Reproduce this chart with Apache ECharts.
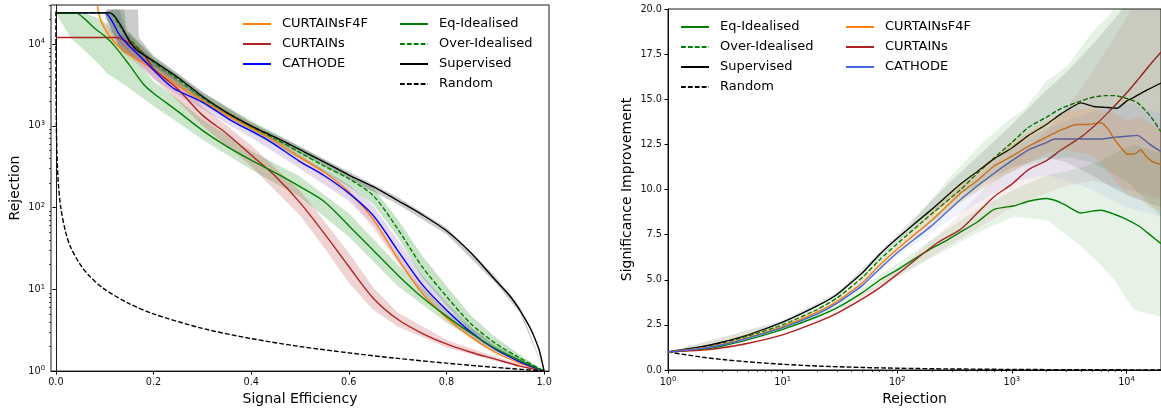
<!DOCTYPE html>
<html>
<head>
<meta charset="utf-8">
<script src="https://cdn.jsdelivr.net/npm/echarts@6/dist/echarts.min.js"></script>
<style>
html,body{margin:0;padding:0;background:#fff;}
#chart{width:1161px;height:411px;}
</style>
</head>
<body>
<div id="chart"></div>
<script>
// ---------- Left panel: Signal Efficiency vs Rejection ----------
const leftXTicks = [0, 0.2, 0.4, 0.6, 0.8, 1.0];
const leftYTicks = [1, 10, 100, 1000, 10000];
const leftYMinor = [2,3,4,5,6,7,8,9,20,30,40,50,60,70,80,90,200,300,400,500,600,700,800,900,2000,3000,4000,5000,6000,7000,8000,9000,20000,30000];

const leftF4F = [[0.085,29000],[0.09,21000],[0.1,15500],[0.12,10500],[0.14,8300],[0.17,6300],[0.2,4900],[0.25,3100],[0.3,2050],[0.36,1250],[0.43,750],[0.5,410],[0.55,270],[0.6,155],[0.65,72],[0.7,24],[0.75,9],[0.8,4.5],[0.85,2.6],[0.9,1.7],[0.95,1.25],[1,1]];
const leftCurtains = [[0,12000],[0.125,12000],[0.13,11800],[0.16,9500],[0.18,7500],[0.2,5000],[0.25,2800],[0.3,1350],[0.35,800],[0.4,440],[0.45,240],[0.5,115],[0.55,48],[0.6,19],[0.65,7.8],[0.7,4.3],[0.75,2.9],[0.8,2.15],[0.85,1.7],[0.9,1.4],[0.95,1.15],[1,1]];
const leftCathode = [[0,24000],[0.1,24000],[0.115,19000],[0.13,13000],[0.15,9500],[0.173,7000],[0.2,4800],[0.24,2900],[0.3,1950],[0.36,1150],[0.43,690],[0.5,365],[0.55,245],[0.6,150],[0.65,80],[0.7,30],[0.75,11.5],[0.8,5.6],[0.85,3],[0.9,1.85],[0.95,1.3],[1,1]];
const leftEqIdeal = [[0,24000],[0.04,24000],[0.06,20000],[0.08,15500],[0.1,12500],[0.12,9500],[0.15,5600],[0.18,3200],[0.2,2500],[0.25,1500],[0.3,880],[0.35,560],[0.4,380],[0.45,265],[0.5,180],[0.55,118],[0.6,60],[0.65,30],[0.7,15],[0.75,8],[0.8,4.7],[0.85,2.9],[0.9,1.9],[0.95,1.35],[1,1]];
const leftOverIdeal = [[0,24000],[0.11,24000],[0.13,17000],[0.15,11500],[0.2,6000],[0.25,3700],[0.3,2200],[0.35,1450],[0.4,980],[0.45,690],[0.5,470],[0.55,320],[0.6,225],[0.65,140],[0.7,55],[0.75,19],[0.8,8.2],[0.85,3.8],[0.9,2.2],[0.95,1.45],[1,1]];
const leftSupervised = [[0,24000],[0.11,24000],[0.13,18000],[0.15,11000],[0.165,8500],[0.2,6200],[0.25,3900],[0.3,2300],[0.35,1450],[0.4,1000],[0.45,720],[0.5,510],[0.55,360],[0.6,250],[0.65,180],[0.7,122],[0.75,82],[0.8,52],[0.85,28],[0.9,13],[0.93,8.3],[0.95,5.6],[0.97,3.5],[0.98,2.6],[0.99,1.8],[1,1]];
const leftRandom = [[0.00004,25000],[0.0001,10000],[0.0003,3333],[0.001,1000],[0.002,500],[0.005,200],[0.01,100],[0.02,50],[0.03,33],[0.05,20],[0.07,14.3],[0.1,10],[0.15,6.7],[0.2,5],[0.3,3.33],[0.4,2.5],[0.5,2],[0.6,1.67],[0.7,1.43],[0.8,1.25],[0.9,1.11],[1,1]];

// bands: [x, low, high]
const bandF4F = [[0.085,29000,29000],[0.1,13000,18000],[0.15,6500,9000],[0.2,4400,5500],[0.3,1850,2300],[0.4,850,1100],[0.5,370,455],[0.6,140,172],[0.7,21,28],[0.8,4.1,5],[0.9,1.6,1.8],[1,1,1]];
const bandCurtains = [[0.125,11500,12500],[0.15,8000,13500],[0.2,3800,6500],[0.25,2000,3600],[0.3,1000,1750],[0.4,320,580],[0.5,80,160],[0.55,32,68],[0.6,12,28],[0.65,5.6,10.5],[0.7,3.5,5.2],[0.8,1.95,2.4],[0.9,1.33,1.5],[1,1,1]];
const bandCathode = [[0.1,24000,24000],[0.105,16000,26500],[0.13,9000,26500],[0.145,8000,14000],[0.17,5500,9000],[0.2,3800,6200],[0.25,2400,3500],[0.3,1600,2300],[0.4,720,1000],[0.5,300,440],[0.6,120,190],[0.65,60,105],[0.7,22,40],[0.75,8.5,15],[0.8,4.4,7],[0.85,2.6,3.5],[0.9,1.7,2.0],[1,1,1]];
const bandEqIdeal = [[0,24000,24000],[0.03,12000,24000],[0.057,8500,24000],[0.085,5900,21000],[0.105,4400,17500],[0.146,3000,9000],[0.2,1750,3500],[0.25,1100,2100],[0.3,680,1200],[0.4,290,490],[0.5,135,240],[0.6,44,85],[0.7,11,20],[0.8,3.9,5.6],[0.9,1.75,2.1],[1,1,1]];
const bandOverIdeal = [[0.1,24000,24000],[0.115,14000,26500],[0.14,10500,26500],[0.145,9500,15000],[0.2,5000,7000],[0.3,1850,2550],[0.4,830,1150],[0.5,395,560],[0.6,180,260],[0.65,110,175],[0.7,44,72],[0.75,14,26],[0.8,6.3,11],[0.85,3.1,4.8],[0.9,1.95,2.6],[0.95,1.35,1.6],[1,1,1]];
const bandSupervised = [[0.1,24000,24000],[0.105,20000,26500],[0.135,8000,26500],[0.168,6300,26500],[0.17,6300,12000],[0.2,5300,7200],[0.25,3400,4400],[0.3,2000,2600],[0.4,900,1100],[0.5,460,560],[0.6,225,275],[0.7,110,135],[0.8,47,57],[0.9,12,14.5],[0.95,5.2,6.2],[1,1,1]];

// ---------- Right panel: Rejection vs Significance Improvement ----------
const rightXTicks = [1, 10, 100, 1000, 10000];
const rightXMinor = [2,3,4,5,6,7,8,9,20,30,40,50,60,70,80,90,200,300,400,500,600,700,800,900,2000,3000,4000,5000,6000,7000,8000,9000,20000];
const rightYTicks = [0, 2.5, 5, 7.5, 10, 12.5, 15, 17.5, 20];

const rightEqIdeal = [[1,1],[2,1.15],[3,1.33],[5,1.68],[10,2.25],[20,2.95],[30,3.45],[50,4.3],[71,5.0],[100,5.55],[200,6.75],[273,7.2],[357,7.65],[500,8.2],[700,8.9],[1050,9.1],[1400,9.35],[2000,9.5],[2500,9.35],[3000,9.1],[4000,8.7],[5000,8.8],[6000,8.85],[8000,8.6],[10000,8.35],[13000,7.95],[16000,7.5],[20000,7.0]];
const rightOverIdeal = [[1,1],[2,1.27],[3,1.5],[5,1.88],[10,2.5],[20,3.35],[30,4.0],[50,5.15],[70,6.1],[100,7.0],[200,8.65],[357,10.0],[500,10.9],[700,11.75],[1000,12.6],[1400,13.45],[2000,14.0],[2700,14.5],[4000,14.9],[5000,15.1],[6500,15.2],[8000,15.2],[10000,15.05],[12500,14.8],[16000,14.1],[20000,13.2]];
const rightSupervised = [[1,1],[2,1.3],[3,1.55],[5,1.95],[10,2.65],[20,3.55],[30,4.2],[50,5.4],[70,6.4],[100,7.3],[200,8.9],[357,10.3],[500,11.0],[700,11.7],[1000,12.3],[1400,13.0],[2000,13.6],[2700,14.2],[4000,14.8],[5200,14.6],[6500,14.55],[8300,14.5],[10000,14.9],[11600,15.1],[15000,15.5],[20000,15.9]];
const rightRandom = [[1,1],[2,0.71],[3,0.58],[5,0.45],[10,0.32],[20,0.22],[50,0.14],[100,0.1],[300,0.058],[1000,0.032],[3000,0.018],[10000,0.01],[20000,0.007]];
const rightF4F = [[1,1],[2,1.22],[3,1.43],[5,1.8],[10,2.4],[20,3.2],[30,3.8],[50,4.85],[70,5.8],[100,6.7],[200,8.3],[357,9.8],[500,10.5],[700,11.3],[1000,11.85],[1400,12.4],[2000,12.9],[2700,13.3],[3700,13.6],[4500,13.6],[6000,13.7],[7000,13.3],[7800,12.8],[9000,12.3],[10200,11.95],[12000,12.0],[13300,12.2],[15000,11.8],[17400,11.5],[20000,11.4]];
const rightCurtains = [[1,1],[2,1.1],[3,1.23],[5,1.48],[10,1.95],[20,2.65],[30,3.15],[50,3.95],[70,4.55],[100,5.3],[224,7.05],[357,7.8],[500,8.7],[700,9.6],[1000,10.3],[1400,11.1],[2000,11.6],[2700,12.2],[4000,12.9],[5200,13.5],[7000,14.3],[10200,15.4],[13000,16.2],[16000,16.9],[20000,17.6]];
const rightCathode = [[1,1],[2,1.2],[3,1.4],[5,1.77],[10,2.35],[20,3.1],[30,3.7],[50,4.7],[70,5.6],[100,6.5],[200,8.0],[357,9.45],[500,10.2],[700,10.9],[1000,11.6],[1400,12.2],[2000,12.6],[2340,12.8],[3000,12.8],[6000,12.8],[8000,12.9],[10000,12.95],[12500,13.0],[16000,12.5],[20000,12.1]];

const bandR_Eq = [[1,1,1],[10,2.15,2.35],[30,3.3,3.6],[71,4.7,5.3],[100,5.2,5.9],[273,6.67,7.8],[500,7.6,8.9],[1050,8.5,10.0],[2040,8.3,10.8],[3000,7.5,11.0],[4000,6.85,11.2],[6000,5.8,11.6],[7800,5.0,12],[11600,3.33,12.5],[20000,2.96,12]];
const bandR_Over = [[1,1,1],[10,2.4,2.6],[30,3.85,4.15],[100,6.8,7.2],[300,9.0,10.8],[600,10.3,12.8],[1000,11.0,14.0],[1270,11.3,14.4],[2000,11.6,16.0],[3060,11.8,16.85],[5000,11.5,18.7],[6900,11.0,19.6],[10000,10.5,21],[20000,8.5,23]];
const bandR_Sup = [[1,1,1],[10,2.55,2.75],[30,4.1,4.3],[100,7.1,7.5],[300,9.5,10.5],[1000,11.2,13.6],[2000,11.8,15.5],[3000,11.5,16.5],[5000,10.8,18],[8000,10.0,19.5],[12000,9.5,21],[20000,9,22]];
const bandR_F4F = [[1,1,1],[10,2.3,2.5],[30,3.7,3.9],[100,6.5,6.9],[300,9.0,9.9],[1000,11.0,12.6],[2000,12.0,13.8],[3000,12.2,14.3],[4500,12.0,14.5],[6000,11.5,14.4],[8000,10.5,14.2],[10000,9.7,13.8],[13000,9.5,14.0],[16000,9.0,13.7],[20000,8.8,13.3]];
const bandR_Cur = [[1,1,1],[10,1.9,2.0],[30,3.05,3.25],[100,5.1,5.5],[300,7.0,8.2],[1000,9.0,11.6],[2000,9.8,13.2],[3000,10.2,14.5],[5000,10.5,16.5],[10000,10.0,19.5],[20000,9.5,23]];
const bandR_Cat = [[1,1,1],[10,2.28,2.42],[30,3.6,3.8],[100,6.3,6.7],[300,8.4,9.4],[700,9.8,11.5],[1000,10.4,12.3],[2000,10.8,13.4],[3000,10.5,13.8],[5000,10,14.3],[10000,9.0,14.8],[20000,8.5,14.2]];

// ---------- styling ----------
const FONT = 'DejaVu Sans';
const C = {orange:'#ff7f0e', red:'#b22222', blue:'#0000ff', rblue:'#4169e1', green:'#008000', black:'#000000'};
const DASH = [4.8, 2.1];

function lineSeries(name, data, color, xi, yi, dashed, smooth) {
  return {name, type:'line', data, xAxisIndex:xi, yAxisIndex:yi, showSymbol:false, symbol:'none',
    smooth: smooth || false,
    lineStyle:{color, width:1.4, type: dashed ? DASH : 'solid'}, itemStyle:{color},
    z:3, silent:true, animation:false};
}
function bandSeries(pts, fill, xi, yi, z) {
  return {type:'custom', xAxisIndex:xi, yAxisIndex:yi, z: z || 1, silent:true, clip:true, animation:false,
    data: pts, encode:{x:0, y:[1,2]},
    renderItem:(params, api) => {
      if (params.dataIndex !== 0) return null;
      const up = pts.map(p => api.coord([p[0], p[2]]));
      const dn = pts.slice().reverse().map(p => api.coord([p[0], p[1]]));
      return {type:'polygon', shape:{points: up.concat(dn)}, style:{fill}};
    }};
}
const tickLabel = {fontFamily:FONT, fontSize:9.7, color:'#111'};
function logFmt(v){ return '{b|10}{s|' + Math.round(Math.log10(v)) + '}'; }
const logRich = {b:{fontFamily:FONT, fontSize:9.7, color:'#111'}, s:{fontFamily:FONT, fontSize:6.8, color:'#111', verticalAlign:'top', padding:[0,0,5,0]}};
const axisLine = {show:true, lineStyle:{color:'#000', width:0.9}};
const nameStyle = {fontFamily:FONT, fontSize:14, color:'#000'};

function legend(left, top, names) {
  return {left, top, orient:'vertical', padding:0, itemWidth:28, itemHeight:14, itemGap:6,
    data:names, selectedMode:false,
    itemStyle:{color:'rgba(0,0,0,0)', borderColor:'rgba(0,0,0,0)', borderWidth:0},
    formatter: n => n.replace('_r',''),
    textStyle:{fontFamily:FONT, fontSize:13, color:'#000', lineHeight:14, padding:[0,0,0,6]}};
}

const option = {
  animation:false,
  backgroundColor:'#fff',
  grid:[
    {left:51, top:5, width:498, height:368, show:true, borderColor:'#000', borderWidth:0.9, backgroundColor:'transparent'},
    {left:668, top:9, width:493, height:361, show:true, borderColor:'#000', borderWidth:0.9, backgroundColor:'transparent'}
  ],
  xAxis:[
    {gridIndex:0, type:'value', min:-0.01, max:1.01, position:'bottom',
     name:'Signal Efficiency', nameLocation:'middle', nameGap:20, nameTextStyle:nameStyle,
     axisLine, splitLine:{show:false},
     axisTick:{show:true, length:3.5, customValues:leftXTicks, lineStyle:{color:'#000'}},
     axisLabel:{customValues:leftXTicks, formatter:v => v.toFixed(1), margin:6, ...tickLabel}},
    {gridIndex:1, type:'log', logBase:10, min:1, max:20000, position:'bottom',
     name:'Rejection', nameLocation:'middle', nameGap:22, nameTextStyle:nameStyle,
     axisLine, splitLine:{show:false},
     axisTick:{show:true, length:3.5, customValues:rightXTicks, lineStyle:{color:'#000'}},
     axisLabel:{customValues:rightXTicks, formatter:logFmt, rich:logRich, margin:6}},
    {gridIndex:1, type:'log', logBase:10, min:1, max:20000, position:'bottom', offset:0,
     axisLine:{show:false}, splitLine:{show:false}, axisLabel:{show:false},
     axisTick:{show:true, length:2, customValues:rightXMinor, lineStyle:{color:'#000', width:0.7}}}
  ],
  yAxis:[
    {gridIndex:0, type:'log', logBase:10, min:1, max:30000, position:'left',
     name:'Rejection', nameLocation:'middle', nameGap:29, nameTextStyle:nameStyle,
     axisLine, splitLine:{show:false},
     axisTick:{show:true, length:3.5, customValues:leftYTicks, lineStyle:{color:'#000'}},
     axisLabel:{customValues:leftYTicks, formatter:logFmt, rich:logRich, margin:6}},
    {gridIndex:0, type:'log', logBase:10, min:1, max:30000, position:'left', offset:0,
     axisLine:{show:false}, splitLine:{show:false}, axisLabel:{show:false},
     axisTick:{show:true, length:2, customValues:leftYMinor, lineStyle:{color:'#000', width:0.7}}},
    {gridIndex:1, type:'value', min:0, max:20, interval:2.5, position:'left',
     name:'Significance Improvement', nameLocation:'middle', nameGap:34, nameTextStyle:nameStyle,
     axisLine, splitLine:{show:false},
     axisTick:{show:true, length:3.5, lineStyle:{color:'#000'}},
     axisLabel:{formatter:v => v.toFixed(1), margin:6, ...tickLabel}}
  ],
  legend:[
    legend(242, 17, ['CURTAINsF4F','CURTAINs','CATHODE']),
    legend(399, 17, ['Eq-Idealised','Over-Idealised','Supervised','Random']),
    legend(680, 20, ['Eq-Idealised_r','Over-Idealised_r','Supervised_r','Random_r']),
    legend(845, 20, ['CURTAINsF4F_r','CURTAINs_r','CATHODE_r'])
  ],
  series:[
    // left bands
    bandSeries(bandEqIdeal, 'rgba(0,128,0,0.2)', 0, 0, 1),
    bandSeries(bandCurtains, 'rgba(178,34,34,0.2)', 0, 0, 1),
    bandSeries(bandF4F, 'rgba(255,127,14,0.15)', 0, 0, 1),
    bandSeries(bandCathode, 'rgba(148,103,189,0.25)', 0, 0, 1),
    bandSeries(bandOverIdeal, 'rgba(0,128,0,0.22)', 0, 0, 1),
    bandSeries(bandSupervised, 'rgba(0,0,0,0.2)', 0, 0, 1),
    // left lines
    lineSeries('CURTAINsF4F', leftF4F, C.orange, 0, 0, false, 0.3),
    lineSeries('CURTAINs', leftCurtains, C.red, 0, 0, false, 0.3),
    lineSeries('CATHODE', leftCathode, C.blue, 0, 0, false, 0.3),
    lineSeries('Eq-Idealised', leftEqIdeal, C.green, 0, 0, false, 0.3),
    lineSeries('Over-Idealised', leftOverIdeal, C.green, 0, 0, true, 0.3),
    lineSeries('Supervised', leftSupervised, C.black, 0, 0, false, 0.3),
    lineSeries('Random', leftRandom, C.black, 0, 0, true, 0.3),
    // right lines
    lineSeries('Eq-Idealised_r', rightEqIdeal, C.green, 1, 2, false, 0.2),
    lineSeries('Over-Idealised_r', rightOverIdeal, C.green, 1, 2, true, 0.2),
    lineSeries('Supervised_r', rightSupervised, C.black, 1, 2, false, 0.15),
    lineSeries('Random_r', rightRandom, C.black, 1, 2, true, 0.3),
    lineSeries('CURTAINsF4F_r', rightF4F, C.orange, 1, 2, false, 0.15),
    lineSeries('CURTAINs_r', rightCurtains, C.red, 1, 2, false, 0.3),
    lineSeries('CATHODE_r', rightCathode, C.rblue, 1, 2, false, 0.15),
    // right bands (drawn over lines, light)
    bandSeries(bandR_Eq, 'rgba(0,128,0,0.1)', 1, 2, 4),
    bandSeries(bandR_Over, 'rgba(0,128,0,0.1)', 1, 2, 4),
    bandSeries(bandR_Sup, 'rgba(0,0,0,0.1)', 1, 2, 4),
    bandSeries(bandR_F4F, 'rgba(255,127,14,0.15)', 1, 2, 4),
    bandSeries(bandR_Cur, 'rgba(178,34,34,0.08)', 1, 2, 4),
    bandSeries(bandR_Cat, 'rgba(65,105,225,0.08)', 1, 2, 4)
  ]
};
const chart = echarts.init(document.getElementById('chart'), null, {renderer:'canvas'});
chart.setOption(option);
</script>
</body>
</html>
